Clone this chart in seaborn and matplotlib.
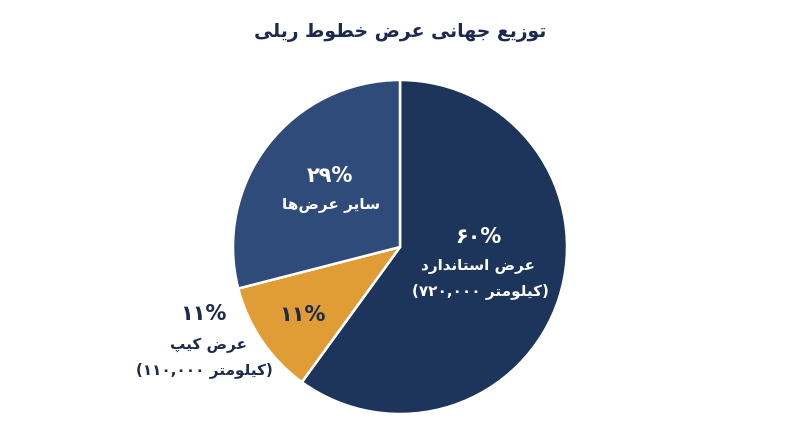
import re
import matplotlib
matplotlib.use("Agg")
import matplotlib.pyplot as plt
import seaborn as sns

# data
categories = ["عرض استاندارد", "عرض کیپ", "سایر عرض‌ها"]
shares = [60, 11, 29]
lengths_km = ["720,000", "110,000", None]
title = "توزیع جهانی عرض خطوط ریلی"
unit = "کیلومتر"
colors = ["#1d345b", "#e09c35", "#2f4b7a"]

# matplotlib does no arabic shaping, so pick the presentation forms by hand
# (isolated, final, initial, medial)
FORMS = {
    'ا': (0xFE8D, 0xFE8E), 'د': (0xFEA9, 0xFEAA), 'ر': (0xFEAD, 0xFEAE),
    'ز': (0xFEAF, 0xFEB0), 'و': (0xFEED, 0xFEEE),
    'ت': (0xFE95, 0xFE96, 0xFE97, 0xFE98), 'ج': (0xFE9D, 0xFE9E, 0xFE9F, 0xFEA0),
    'خ': (0xFEA5, 0xFEA6, 0xFEA7, 0xFEA8), 'س': (0xFEB1, 0xFEB2, 0xFEB3, 0xFEB4),
    'ض': (0xFEBD, 0xFEBE, 0xFEBF, 0xFEC0), 'ط': (0xFEC1, 0xFEC2, 0xFEC3, 0xFEC4),
    'ع': (0xFEC9, 0xFECA, 0xFECB, 0xFECC), 'ل': (0xFEDD, 0xFEDE, 0xFEDF, 0xFEE0),
    'م': (0xFEE1, 0xFEE2, 0xFEE3, 0xFEE4), 'ن': (0xFEE5, 0xFEE6, 0xFEE7, 0xFEE8),
    'ه': (0xFEE9, 0xFEEA, 0xFEEB, 0xFEEC), 'پ': (0xFB56, 0xFB57, 0xFB58, 0xFB59),
    'ک': (0xFB8E, 0xFB8F, 0xFB90, 0xFB91), 'ی': (0xFBFC, 0xFBFD, 0xFBFE, 0xFBFF),
}


def shape(s):
    out = []
    for i, ch in enumerate(s):
        f = FORMS.get(ch)
        if f is None:
            out.append(ch)
            continue
        prev = s[i - 1] if i > 0 else ''
        nxt = s[i + 1] if i + 1 < len(s) else ''
        jp = prev in FORMS and len(FORMS[prev]) == 4
        jn = len(f) == 4 and nxt in FORMS
        if jp and jn:
            out.append(chr(f[3]))
        elif jp:
            out.append(chr(f[1]))
        elif jn:
            out.append(chr(f[2]))
        else:
            out.append(chr(f[0]))
    return ''.join(out)


def fa(text):
    # persian digits, then shape + reverse each rtl run (ltr base direction)
    text = text.translate(str.maketrans("0123456789", "۰۱۲۳۴۵۶۷۸۹"))
    def rtl(m):
        return shape(m.group(0)).replace('\u200c', '')[::-1]
    return re.sub(r'[\u0600-\u06EF\u200C]+(?:\s+[\u0600-\u06EF\u200C]+)*', rtl, text)


sns.set_theme(style="white")
plt.rcParams['font.family'] = ['DejaVu Sans']

fig = plt.figure(figsize=(8, 4.47), dpi=100)
ax = fig.add_axes([0, 0, 1, 1])
R = 167.0  # pie radius in px
ax.pie(shares, colors=colors, startangle=90, counterclock=False, radius=1,
       wedgeprops=dict(edgecolor="white", linewidth=1.8))
ax.set_aspect('auto')
ax.set_xlim(-400 / R, 400 / R)
ax.set_ylim(-200 / R, 247 / R)
ax.axis('off')


def px(x, y):
    return (x - 400) / R, (247 - y) / R


navy = "#1c2a4e"
fs_pct = 15
fs_lab = 11
fig.text(0.5, 1 - 33 / 447, fa(title), ha='center', va='center',
         fontsize=13.5, fontweight='bold', color=navy)

pct = [fa(f"{s}%") for s in shares]

# standard gauge (inside)
ax.text(*px(478, 237), pct[0], ha='center', va='center', fontsize=fs_pct,
        fontweight='bold', color='white')
ax.text(*px(478, 266), fa(categories[0]), ha='center', va='center', fontsize=fs_lab,
        fontweight='bold', color='white')
ax.text(*px(480, 291), fa(f"({lengths_km[0]} {unit})"), ha='center', va='center',
        fontsize=fs_lab, fontweight='bold', color='white')

# other gauges (inside)
ax.text(*px(330, 176), pct[2], ha='center', va='center', fontsize=fs_pct,
        fontweight='bold', color='white')
ax.text(*px(331, 204), fa(categories[2]), ha='center', va='center', fontsize=fs_lab,
        fontweight='bold', color='white')

# cape gauge: inside + outside
ax.text(*px(302, 315), pct[1], ha='center', va='center', fontsize=fs_pct,
        fontweight='bold', color=navy)
ax.text(*px(203, 314), pct[1], ha='center', va='center', fontsize=fs_pct,
        fontweight='bold', color=navy)
ax.text(*px(209, 345), fa(categories[1]), ha='center', va='center', fontsize=fs_lab,
        fontweight='bold', color=navy)
ax.text(*px(204, 370), fa(f"({lengths_km[1]} {unit})"), ha='center', va='center',
        fontsize=fs_lab, fontweight='bold', color=navy)

fig.savefig("out.png", dpi=100, facecolor="white")
